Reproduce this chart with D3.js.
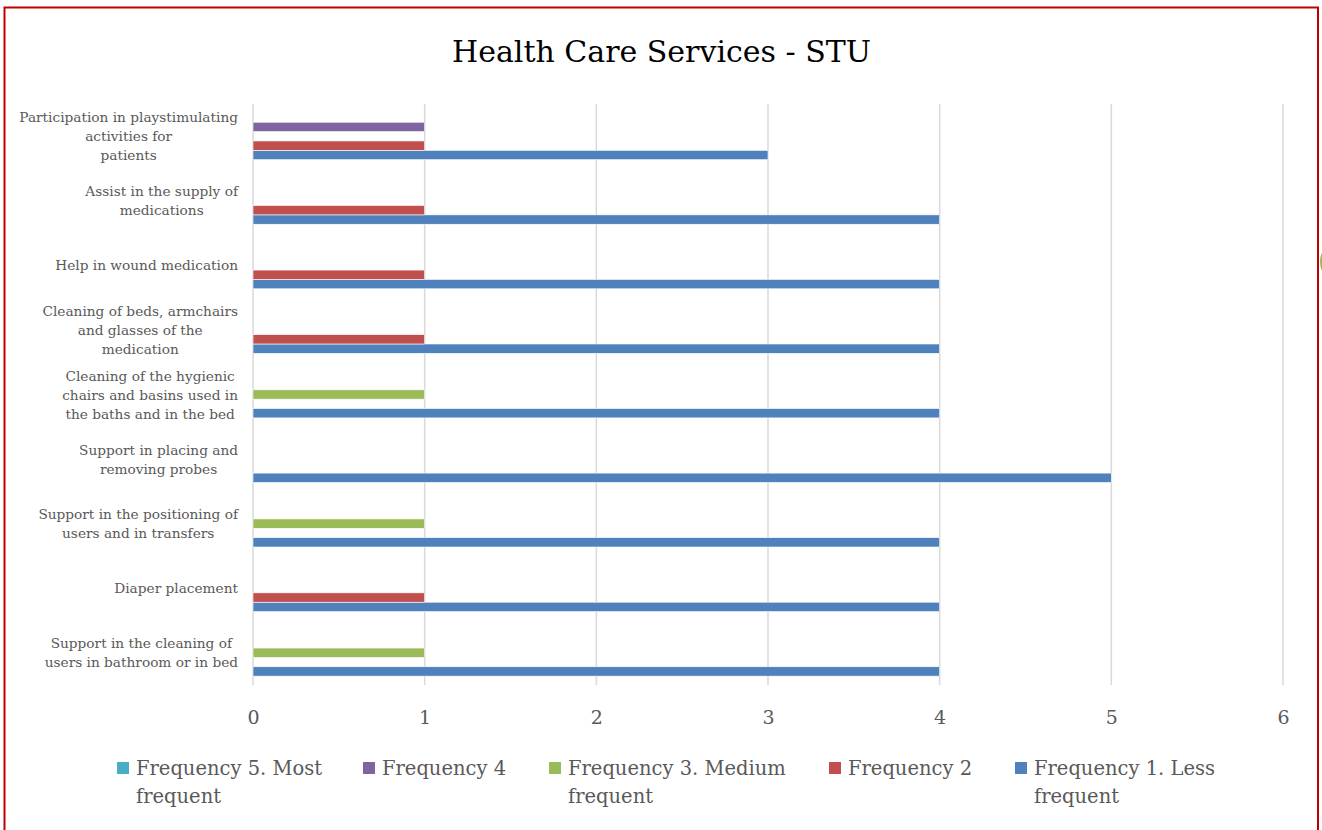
<!DOCTYPE html>
<html><head><meta charset="utf-8">
<script src="https://cdn.jsdelivr.net/npm/d3@7"></script>
<style>body{margin:0;background:#fff}svg{display:block}</style>
</head><body><svg id="c" width="1322" height="830"></svg>
<script>
// Categories, bottom to top (as drawn)
const categories = [
  "Support in the cleaning of users in bathroom or in bed",
  "Diaper placement",
  "Support in the positioning of users and in transfers",
  "Support in placing and removing probes",
  "Cleaning of the hygienic chairs and basins used in the baths and in the bed",
  "Cleaning of beds, armchairs and glasses of the medication",
  "Help in wound medication",
  "Assist in the supply of medications",
  "Participation in playstimulating activities for patients"
];
const categoryLines = [
  ["Support in the cleaning of", "users in bathroom or in bed"],
  ["Diaper placement"],
  ["Support in the positioning of", "users and in transfers"],
  ["Support in placing and", "removing probes"],
  ["Cleaning of the hygienic", "chairs and basins used in", "the baths and in the bed"],
  ["Cleaning of beds, armchairs", "and glasses of the", "medication"],
  ["Help in wound medication"],
  ["Assist in the supply of", "medications"],
  ["Participation in playstimulating", "activities for", "patients"]
];
const seriesNames = ["Frequency 1. Less frequent","Frequency 2","Frequency 3. Medium frequent","Frequency 4","Frequency 5. Most frequent"];
const seriesColors = ["#4F81BD","#C0504D","#9BBB59","#8064A2","#4BACC6"];
const freq1 = [4,4,4,5,4,4,4,4,3];
const freq2 = [0,1,0,0,0,1,1,1,1];
const freq3 = [1,0,1,0,1,0,0,0,0];
const freq4 = [0,0,0,0,0,0,0,0,1];
const freq5 = [0,0,0,0,0,0,0,0,0];
const xTicks = [0,1,2,3,4,5,6];
const legendOrder = [4,3,2,1,0];
const legendLines = [["Frequency 5. Most","frequent"],["Frequency 4"],["Frequency 3. Medium","frequent"],["Frequency 2"],["Frequency 1. Less","frequent"]];
const title = "Health Care Services - STU";

const seriesValues = [freq1,freq2,freq3,freq4,freq5];
const FONT = "'DejaVu Serif', serif";
const TXT = "#595959";
const svg = d3.select("#c");

// frame
svg.append("rect").attr("x",0).attr("y",0).attr("width",1322).attr("height",830).attr("fill","#fff");
svg.append("path").attr("d","M4.5,840 V7.5 H1318 V840").attr("fill","none").attr("stroke","#C00000").attr("stroke-width",2);
svg.append("ellipse").attr("cx",1328).attr("cy",262).attr("rx",8).attr("ry",14).attr("fill","#9BBB59");

const plot = {left:253, right:1283, top:104, bottom:685};
const x = d3.scaleLinear().domain([0,6]).range([plot.left, plot.right]);
const y0 = d3.scaleBand().domain(categories).range([plot.bottom, plot.top]).padding(0);
const bw = y0.bandwidth();
const pad = bw*0.1375;
const y1 = d3.scaleBand().domain(d3.range(5)).range([bw-pad, pad]);

// title
svg.append("text").attr("x",661.5).attr("y",62).attr("text-anchor","middle")
  .attr("font-family",FONT).attr("font-size",30).attr("fill","#000").text(title);

// gridlines
svg.append("g").selectAll("line").data(xTicks).join("line")
  .attr("x1",d=>x(d)).attr("x2",d=>x(d)).attr("y1",plot.top).attr("y2",plot.bottom)
  .attr("stroke","#D9D9D9").attr("stroke-width",1.5);

// bars
const groups = svg.append("g").selectAll("g").data(categories).join("g")
  .attr("transform",d=>`translate(0,${y0(d)})`);
groups.selectAll("rect").data((d,i)=>seriesValues.map((s,k)=>({k,v:s[i]})).filter(o=>o.v>0)).join("rect")
  .attr("x",x(0)).attr("y",o=>y1(o.k)).attr("height",y1.bandwidth())
  .attr("width",o=>x(o.v)-x(0)).attr("fill",o=>seriesColors[o.k])
  .attr("stroke","#fff").attr("stroke-width",0.6);

// x axis labels
const xAxis = d3.axisBottom(x).tickValues(xTicks).tickFormat(d3.format("d")).tickSize(0).tickPadding(0);
const gx = svg.append("g").attr("transform",`translate(0,${plot.bottom+39})`).call(xAxis);
gx.select(".domain").remove();
gx.selectAll("text").attr("dy",null).attr("font-family",FONT).attr("font-size",19).attr("fill",TXT);

// category labels
const lh = 19;
const lab = svg.append("g");
categories.forEach((c,i)=>{
  const lines = categoryLines[i];
  const cy = y0(c)+bw/2;
  const t = lab.append("text").attr("font-family",FONT).attr("font-size",13.7).attr("fill",TXT).attr("text-anchor","middle");
  const spans = lines.map((l,j)=>t.append("tspan").text(l).attr("y",cy+(j-(lines.length-1)/2)*lh+5));
  const maxW = d3.max(spans.map(s=>s.node().getComputedTextLength()));
  spans.forEach(s=>s.attr("x",238-maxW/2));
});

// legend
const legX = [117,363,549,829,1015];
const leg = svg.append("g");
legendOrder.forEach((k,j)=>{
  leg.append("rect").attr("x",legX[j]).attr("y",762).attr("width",12).attr("height",12).attr("fill",seriesColors[k]);
  const t = leg.append("text").attr("font-family",FONT).attr("font-size",19.5).attr("fill",TXT);
  legendLines[j].forEach((l,m)=>t.append("tspan").attr("x",legX[j]+19).attr("y",775+m*28).text(l));
});
</script></body></html>
